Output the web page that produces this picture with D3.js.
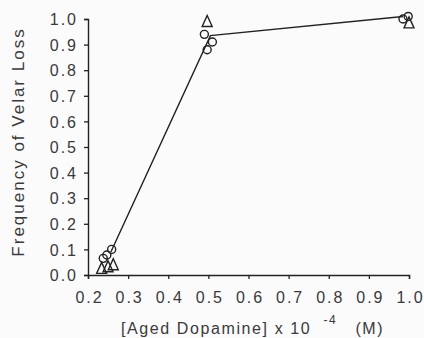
<!DOCTYPE html>
<html><head><meta charset="utf-8">
<script src="https://cdn.jsdelivr.net/npm/d3@7"></script>
<style>
body{margin:0;background:#fbfbfb;}
svg{display:block;}
text{font-family:"Liberation Sans",Arial,sans-serif;fill:#3a3a3a;}
</style></head><body>
<svg id="c" width="424" height="338"></svg>
<script>
const xTicks = [0.2,0.3,0.4,0.5,0.6,0.7,0.8,0.9,1.0];
const yTicks = [0.0,0.1,0.2,0.3,0.4,0.5,0.6,0.7,0.8,0.9,1.0];
const circleX = [0.238,0.247,0.259,0.49,0.51,0.497,0.985,0.998];
const circleY = [0.065,0.078,0.10,0.94,0.91,0.88,1.0,1.01];
const triX = [0.234,0.25,0.263,0.497,1.0];
const triY = [0.026,0.032,0.04,0.99,0.985];
const lineX = [0.257,0.505,0.985];
const lineY = [0.09,0.935,1.01];

const svg = d3.select("#c");
const x = d3.scaleLinear().domain([0.2,1.0]).range([88,409]);
const y = d3.scaleLinear().domain([0,1]).range([275,19]);
const ink = "#222";

const xa = svg.append("g").attr("transform","translate(0,275)")
  .call(d3.axisBottom(x).tickValues(xTicks).tickFormat(d3.format(".1f")).tickSizeOuter(0).tickSize(4).tickPadding(13));
const ya = svg.append("g").attr("transform","translate(88,0)")
  .call(d3.axisLeft(y).tickValues(yTicks).tickFormat(d3.format(".1f")).tickSizeOuter(0).tickSize(4).tickPadding(6));
[xa,ya].forEach(g=>{
  g.select(".domain").attr("stroke",ink).attr("stroke-width",1.4);
  g.selectAll(".tick line").attr("stroke",ink).attr("stroke-width",1.3);
  g.selectAll("text").attr("font-size",16).attr("letter-spacing","2px").style("fill","#3a3a3a");
});
xa.selectAll("text").attr("dy","0.71em").attr("dx","1px");
ya.selectAll("text").attr("dy","0.35em");

// line
svg.append("path").datum(lineX.map((d,i)=>[d,lineY[i]]))
  .attr("d",d3.line().x(d=>x(d[0])).y(d=>y(d[1])))
  .attr("fill","none").attr("stroke",ink).attr("stroke-width",1.4);

// circles
svg.selectAll("circle.pt").data(circleX.map((d,i)=>[d,circleY[i]])).join("circle")
  .attr("cx",d=>x(d[0])).attr("cy",d=>y(d[1])).attr("r",4)
  .attr("fill","none").attr("stroke",ink).attr("stroke-width",1.4);
// triangles
svg.selectAll("path.tri").data(triX.map((d,i)=>[d,triY[i]])).join("path")
  .attr("class","tri")
  .attr("transform",d=>`translate(${x(d[0])},${y(d[1])})`)
  .attr("d","M0,-6L5,5L-5,5Z")
  .attr("fill","none").attr("stroke",ink).attr("stroke-width",1.4);

// titles
const xt = svg.append("text").attr("x",121).attr("y",334).attr("font-size",16).attr("letter-spacing","1.6px").attr("xml:space","preserve");
xt.append("tspan").text("[Aged Dopamine] x 10  ");
xt.append("tspan").attr("font-size",12).attr("dy",-10).text("-4");
xt.append("tspan").attr("dy",10).text("   (M)");
svg.append("text").attr("transform","translate(24,142) rotate(-90)")
  .attr("text-anchor","middle").attr("font-size",17).attr("letter-spacing","2px")
  .text("Frequency of Velar Loss");
</script></body></html>
